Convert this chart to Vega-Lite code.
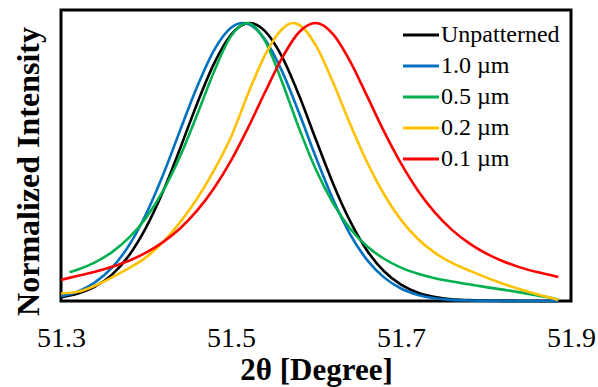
{
"$schema": "https://vega.github.io/schema/vega-lite/v6.json",
"width": 510, "height": 291,
"autosize": {"type": "none"},
"padding": {"left": 61, "top": 10, "right": 27, "bottom": 86},
"background": "white",
"config": {"view": {"stroke": "black", "strokeWidth": 3}, "font": "Liberation Serif",
  "axis": {"labelFont": "Liberation Serif", "titleFont": "Liberation Serif"},
  "legend": {"labelFont": "Liberation Serif"}},
"data": {"values": [
{"s":"Unpatterned","x":51.30,"y":0.014},{"s":"Unpatterned","x":51.32,"y":0.027},{"s":"Unpatterned","x":51.34,"y":0.052},{"s":"Unpatterned","x":51.36,"y":0.095},{"s":"Unpatterned","x":51.38,"y":0.164},{"s":"Unpatterned","x":51.40,"y":0.264},{"s":"Unpatterned","x":51.42,"y":0.394},{"s":"Unpatterned","x":51.44,"y":0.548},{"s":"Unpatterned","x":51.46,"y":0.709},{"s":"Unpatterned","x":51.48,"y":0.854},{"s":"Unpatterned","x":51.50,"y":0.958},{"s":"Unpatterned","x":51.522,"y":1.0},{"s":"Unpatterned","x":51.54,"y":0.971},{"s":"Unpatterned","x":51.56,"y":0.879},{"s":"Unpatterned","x":51.58,"y":0.740},{"s":"Unpatterned","x":51.60,"y":0.580},{"s":"Unpatterned","x":51.62,"y":0.423},{"s":"Unpatterned","x":51.64,"y":0.288},{"s":"Unpatterned","x":51.66,"y":0.182},{"s":"Unpatterned","x":51.68,"y":0.107},{"s":"Unpatterned","x":51.70,"y":0.059},{"s":"Unpatterned","x":51.72,"y":0.030},{"s":"Unpatterned","x":51.74,"y":0.014},{"s":"Unpatterned","x":51.76,"y":0.006},{"s":"Unpatterned","x":51.78,"y":0.003},{"s":"Unpatterned","x":51.80,"y":0.001},{"s":"Unpatterned","x":51.82,"y":0.0005},{"s":"Unpatterned","x":51.84,"y":0.0002},{"s":"Unpatterned","x":51.86,"y":0},{"s":"Unpatterned","x":51.885,"y":0},
{"s":"1.0 µm","x":51.30,"y":0.017},{"s":"1.0 µm","x":51.32,"y":0.034},{"s":"1.0 µm","x":51.34,"y":0.067},{"s":"1.0 µm","x":51.36,"y":0.120},{"s":"1.0 µm","x":51.38,"y":0.200},{"s":"1.0 µm","x":51.40,"y":0.312},{"s":"1.0 µm","x":51.42,"y":0.453},{"s":"1.0 µm","x":51.44,"y":0.613},{"s":"1.0 µm","x":51.46,"y":0.770},{"s":"1.0 µm","x":51.48,"y":0.902},{"s":"1.0 µm","x":51.50,"y":0.983},{"s":"1.0 µm","x":51.514,"y":1.0},{"s":"1.0 µm","x":51.53,"y":0.977},{"s":"1.0 µm","x":51.54,"y":0.941},{"s":"1.0 µm","x":51.56,"y":0.827},{"s":"1.0 µm","x":51.58,"y":0.677},{"s":"1.0 µm","x":51.60,"y":0.516},{"s":"1.0 µm","x":51.62,"y":0.366},{"s":"1.0 µm","x":51.64,"y":0.241},{"s":"1.0 µm","x":51.66,"y":0.148},{"s":"1.0 µm","x":51.68,"y":0.085},{"s":"1.0 µm","x":51.70,"y":0.045},{"s":"1.0 µm","x":51.72,"y":0.022},{"s":"1.0 µm","x":51.74,"y":0.010},{"s":"1.0 µm","x":51.76,"y":0.004},{"s":"1.0 µm","x":51.78,"y":0.002},{"s":"1.0 µm","x":51.80,"y":0.001},{"s":"1.0 µm","x":51.82,"y":0},{"s":"1.0 µm","x":51.885,"y":0},
{"s":"0.5 µm","x":51.31,"y":0.103},{"s":"0.5 µm","x":51.32,"y":0.113},{"s":"0.5 µm","x":51.34,"y":0.139},{"s":"0.5 µm","x":51.36,"y":0.176},{"s":"0.5 µm","x":51.38,"y":0.228},{"s":"0.5 µm","x":51.40,"y":0.299},{"s":"0.5 µm","x":51.42,"y":0.396},{"s":"0.5 µm","x":51.44,"y":0.520},{"s":"0.5 µm","x":51.46,"y":0.669},{"s":"0.5 µm","x":51.48,"y":0.825},{"s":"0.5 µm","x":51.50,"y":0.953},{"s":"0.5 µm","x":51.519,"y":1.0},{"s":"0.5 µm","x":51.54,"y":0.936},{"s":"0.5 µm","x":51.56,"y":0.789},{"s":"0.5 µm","x":51.58,"y":0.622},{"s":"0.5 µm","x":51.60,"y":0.472},{"s":"0.5 µm","x":51.62,"y":0.352},{"s":"0.5 µm","x":51.64,"y":0.261},{"s":"0.5 µm","x":51.66,"y":0.197},{"s":"0.5 µm","x":51.68,"y":0.152},{"s":"0.5 µm","x":51.70,"y":0.120},{"s":"0.5 µm","x":51.72,"y":0.098},{"s":"0.5 µm","x":51.74,"y":0.082},{"s":"0.5 µm","x":51.76,"y":0.070},{"s":"0.5 µm","x":51.78,"y":0.060},{"s":"0.5 µm","x":51.80,"y":0.050},{"s":"0.5 µm","x":51.82,"y":0.041},{"s":"0.5 µm","x":51.84,"y":0.031},{"s":"0.5 µm","x":51.86,"y":0.020},{"s":"0.5 µm","x":51.88,"y":0.009},{"s":"0.5 µm","x":51.885,"y":0.005},
{"s":"0.2 µm","x":51.30,"y":0.027},{"s":"0.2 µm","x":51.32,"y":0.033},{"s":"0.2 µm","x":51.34,"y":0.055},{"s":"0.2 µm","x":51.36,"y":0.085},{"s":"0.2 µm","x":51.38,"y":0.118},{"s":"0.2 µm","x":51.40,"y":0.157},{"s":"0.2 µm","x":51.42,"y":0.212},{"s":"0.2 µm","x":51.44,"y":0.283},{"s":"0.2 µm","x":51.46,"y":0.368},{"s":"0.2 µm","x":51.48,"y":0.470},{"s":"0.2 µm","x":51.50,"y":0.590},{"s":"0.2 µm","x":51.52,"y":0.745},{"s":"0.2 µm","x":51.54,"y":0.885},{"s":"0.2 µm","x":51.56,"y":0.978},{"s":"0.2 µm","x":51.573,"y":1.0},{"s":"0.2 µm","x":51.58,"y":0.994},{"s":"0.2 µm","x":51.60,"y":0.919},{"s":"0.2 µm","x":51.62,"y":0.787},{"s":"0.2 µm","x":51.64,"y":0.638},{"s":"0.2 µm","x":51.66,"y":0.500},{"s":"0.2 µm","x":51.68,"y":0.384},{"s":"0.2 µm","x":51.70,"y":0.292},{"s":"0.2 µm","x":51.72,"y":0.223},{"s":"0.2 µm","x":51.74,"y":0.173},{"s":"0.2 µm","x":51.76,"y":0.137},{"s":"0.2 µm","x":51.78,"y":0.110},{"s":"0.2 µm","x":51.80,"y":0.085},{"s":"0.2 µm","x":51.82,"y":0.062},{"s":"0.2 µm","x":51.84,"y":0.042},{"s":"0.2 µm","x":51.86,"y":0.024},{"s":"0.2 µm","x":51.88,"y":0.008},{"s":"0.2 µm","x":51.885,"y":0.004},
{"s":"0.1 µm","x":51.30,"y":0.076},{"s":"0.1 µm","x":51.32,"y":0.091},{"s":"0.1 µm","x":51.34,"y":0.105},{"s":"0.1 µm","x":51.36,"y":0.123},{"s":"0.1 µm","x":51.38,"y":0.145},{"s":"0.1 µm","x":51.40,"y":0.174},{"s":"0.1 µm","x":51.42,"y":0.212},{"s":"0.1 µm","x":51.44,"y":0.261},{"s":"0.1 µm","x":51.46,"y":0.325},{"s":"0.1 µm","x":51.48,"y":0.406},{"s":"0.1 µm","x":51.50,"y":0.505},{"s":"0.1 µm","x":51.52,"y":0.623},{"s":"0.1 µm","x":51.54,"y":0.751},{"s":"0.1 µm","x":51.56,"y":0.874},{"s":"0.1 µm","x":51.58,"y":0.967},{"s":"0.1 µm","x":51.60,"y":1.0},{"s":"0.1 µm","x":51.62,"y":0.960},{"s":"0.1 µm","x":51.64,"y":0.863},{"s":"0.1 µm","x":51.66,"y":0.738},{"s":"0.1 µm","x":51.68,"y":0.610},{"s":"0.1 µm","x":51.70,"y":0.495},{"s":"0.1 µm","x":51.72,"y":0.397},{"s":"0.1 µm","x":51.74,"y":0.318},{"s":"0.1 µm","x":51.76,"y":0.256},{"s":"0.1 µm","x":51.78,"y":0.208},{"s":"0.1 µm","x":51.80,"y":0.171},{"s":"0.1 µm","x":51.82,"y":0.143},{"s":"0.1 µm","x":51.84,"y":0.121},{"s":"0.1 µm","x":51.86,"y":0.104},{"s":"0.1 µm","x":51.88,"y":0.090},{"s":"0.1 µm","x":51.885,"y":0.086}
]},
"mark": {"type": "line", "strokeWidth": 2.6, "interpolate": "monotone"},
"encoding": {
  "x": {"field": "x", "type": "quantitative",
    "scale": {"domain": [51.3, 51.9], "nice": false, "zero": false},
    "axis": {"values": [51.3, 51.5, 51.7, 51.9], "format": ".1f", "ticks": false, "tickSize": 0, "domain": false, "grid": false,
      "labelFont": "Times New Roman", "labelFontSize": 28, "labelColor": "black", "labelBaseline": "alphabetic", "labelPadding": 45, "labelFlush": false, "labelOverlap": false,
      "title": "2θ [Degree]", "titleFont": "Liberation Serif", "titleFontSize": 31, "titleFontWeight": "bold", "titleColor": "black", "titleBaseline": "alphabetic", "titleY": 78}},
  "y": {"field": "y", "type": "quantitative",
    "scale": {"domain": [0, 1.047], "nice": false},
    "axis": {"labels": false, "ticks": false, "domain": false, "grid": false,
      "title": "Normalized Intensity", "titleFont": "Liberation Serif", "titleFontSize": 32, "titleFontWeight": "bold", "titleColor": "black",
      "titleAngle": 270, "titleBaseline": "alphabetic", "titleAlign": "center", "titleX": -23, "titleY": 161}},
  "color": {"field": "s", "type": "nominal",
    "scale": {"domain": ["Unpatterned", "1.0 µm", "0.5 µm", "0.2 µm", "0.1 µm"], "range": ["#000000", "#0070C0", "#00B050", "#FFC000", "#FF0000"]},
    "legend": {"title": null, "orient": "none", "legendX": 348, "legendY": 13, "symbolType": "M-2,0L2,0", "symbolSize": 324, "symbolStrokeWidth": 3,
      "labelFont": "Times New Roman", "labelFontSize": 24, "labelColor": "black", "labelOffset": 8, "rowPadding": 7, "padding": 0}}
}
}
